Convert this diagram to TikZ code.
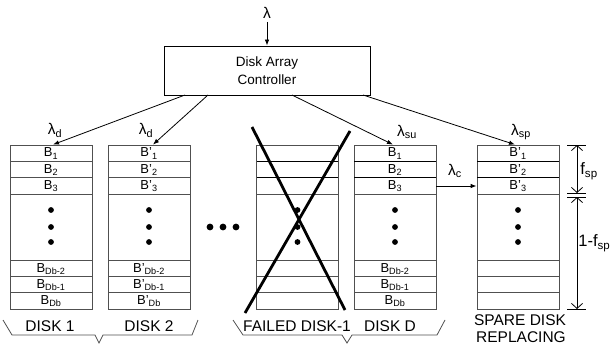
\documentclass[tikz,border=0pt]{standalone}
\usepackage{fontspec}
\setmainfont{Liberation Sans}
\usepackage{xcolor}
\definecolor{diskgray}{RGB}{80,80,80}
\usepackage{tikz}
\usetikzlibrary{arrows.meta, positioning}

\begin{document}
\begin{tikzpicture}[x=1pt, y=-1pt, line width=0.8pt,
  disk/.style={draw=diskgray, minimum width=82pt, minimum height=164pt, inner sep=0pt},
  rowline/.style={diskgray},
  blk/.style={font=\fontsize{13}{14}\selectfont, anchor=base, inner sep=0pt},
  lam/.style={font=\fontsize{15.5}{17}\selectfont, inner sep=0pt},
  caption/.style={font=\fontsize{15.5}{17}\selectfont, inner sep=0pt},
  feed/.style={-{Latex[length=6pt, width=4.5pt]}},
  dim/.style={{Straight Barb[length=5pt, width=11pt]}-{Straight Barb[length=5pt, width=11pt]}},
  brace/.style={diskgray, line join=miter}]

  \useasboundingbox (0,0) rectangle (611,345);

  % Controller and incoming requests
  \node[draw, minimum width=206pt, minimum height=49pt, align=center, font=\fontsize{13.5}{18}\selectfont] (ctrl) at (267,70.5) {Disk Array\\Controller};
  \node[lam] (lin) at (267,13) {λ};
  \coordinate (in) at (267,22);
  \draw[feed] (in) -- (ctrl.north);

  % --- Disk 1 ---
  \node[disk] (d1) at (51,227) {};
  \foreach \y in {161,177,194,260,276,292} \draw[rowline] (10,\y) -- (92,\y);
  \node[blk] (d1r1) at (51,157) {B\textsubscript{1}};
  \node[blk] (d1r2) at (51,173) {B\textsubscript{2}};
  \node[blk] (d1r3) at (51,189) {B\textsubscript{3}};
  \node[blk] (d1r4) at (51,272) {B\textsubscript{Db-2}};
  \node[blk] (d1r5) at (51,288) {B\textsubscript{Db-1}};
  \node[blk] (d1r6) at (51,304) {B\textsubscript{Db}};
  \foreach \y in {210,227,242} \fill (51,\y) circle (2.9pt);

  % --- Disk 2 ---
  \node[disk] (d2) at (149,227) {};
  \foreach \y in {161,177,194,260,276,292} \draw[rowline] (108,\y) -- (190,\y);
  \node[blk] (d2r1) at (149,157) {B'\textsubscript{1}};
  \node[blk] (d2r2) at (149,173) {B'\textsubscript{2}};
  \node[blk] (d2r3) at (149,189) {B'\textsubscript{3}};
  \node[blk] (d2r4) at (149,272) {B'\textsubscript{Db-2}};
  \node[blk] (d2r5) at (149,288) {B'\textsubscript{Db-1}};
  \node[blk] (d2r6) at (149,304) {B'\textsubscript{Db}};
  \foreach \y in {210,227,242} \fill (149,\y) circle (2.9pt);

  % more disks in between
  \foreach \x in {210,223,236} \fill (\x,227) circle (3.4pt);

  % --- Failed disk ---
  \node[disk] (df) at (297.5,227) {};
  \foreach \y in {194,260,276,292} \draw[rowline] (257,\y) -- (338,\y);
  \foreach \y in {161,177} \draw (257,\y) -- (338,\y);
  \foreach \y in {210,227,242} \fill (297.5,\y) circle (2.9pt);
  \draw[line width=2.8pt] (252,127) -- (345,310);
  \draw[line width=2.8pt] (245,313) -- (350,131);

  % --- Disk D ---
  \node[disk] (dD) at (395,227) {};
  \foreach \y in {194,260,276,292} \draw[rowline] (354,\y) -- (436,\y);
  \foreach \y in {161,177} \draw (354,\y) -- (436,\y);
  \node[blk] (dDr1) at (395,157) {B\textsubscript{1}};
  \node[blk] (dDr2) at (395,173) {B\textsubscript{2}};
  \node[blk] (dDr3) at (395,189) {B\textsubscript{3}};
  \node[blk] (dDr4) at (395,272) {B\textsubscript{Db-2}};
  \node[blk] (dDr5) at (395,288) {B\textsubscript{Db-1}};
  \node[blk] (dDr6) at (395,304) {B\textsubscript{Db}};
  \foreach \y in {210,227,242} \fill (395,\y) circle (2.9pt);

  % --- Spare disk ---
  \node[disk] (sp) at (518,227) {};
  \foreach \y in {194,260,276,292} \draw[rowline] (477,\y) -- (559,\y);
  \foreach \y in {161,177} \draw (477,\y) -- (559,\y);
  \node[blk] (spr1) at (518,157) {B'\textsubscript{1}};
  \node[blk] (spr2) at (518,173) {B'\textsubscript{2}};
  \node[blk] (spr3) at (518,189) {B'\textsubscript{3}};
  \foreach \y in {210,227,242} \fill (518,\y) circle (2.9pt);

  % Controller to disks
  \coordinate (c1) at (185,95);
  \coordinate (c2) at (208,95);
  \coordinate (c3) at (292,95);
  \coordinate (c4) at (363,95);
  \draw[feed] (c1) -- ([xshift=2pt]d1.north);
  \draw[feed] (c2) -- ([xshift=4pt]d2.north);
  \draw[feed] (c3) -- ([xshift=-2pt]dD.north);
  \draw[feed] (c4) -- ([xshift=-3pt]sp.north);
  \node[lam] (ld1) at (55,130) {λ\textsubscript{d}};
  \node[lam] (ld2) at (146,130) {λ\textsubscript{d}};
  \node[lam] (lsu) at (407,132) {λ\textsubscript{su}};
  \node[lam] (lsp) at (521,132) {λ\textsubscript{sp}};

  % Copy to spare disk
  \coordinate (cs) at (436,186);
  \draw[feed] (cs) -- (cs -| sp.west);
  \node[lam] (lc) at (455,171) {λ\textsubscript{c}};

  % Fractions of the spare disk
  \coordinate (f0) at (577,145);
  \coordinate (f1) at (577,193);
  \coordinate (f2) at (577,197);
  \coordinate (f3) at (577,309);
  \foreach \p in {f0,f1,f2,f3} \draw ([xshift=-10pt]\p) -- ([xshift=9pt]\p);
  \draw[dim] (f0) -- (f1);
  \draw[dim] (f2) -- (f3);
  \node[lam, anchor=west, font=\fontsize{16.5}{18}\selectfont] (lfsp) at (580,171) {f\textsubscript{sp}};
  \node[lam, anchor=west, font=\fontsize{16.5}{18}\selectfont] (lrest) at (578,243) {1-f\textsubscript{sp}};

  % Captions and group braces
  \node[caption] (cap1) at (50,326) {DISK 1};
  \node[caption] (cap2) at (149,326) {DISK 2};
  \node[caption] (capf) at (297,326) {FAILED DISK-1};
  \node[caption] (capD) at (390,326) {DISK D};
  \node[caption] (caps1) at (520,320) {SPARE DISK};
  \node[caption] (caps2) at (521,337.5) {REPLACING};
  \draw[brace] (3,320) -- (12,335) -- (95,335) -- (99,343) -- (103,335) -- (192,335) -- (198,320);
  \draw[brace] (233,320) -- (243,335) -- (342,335) -- (347,343) -- (352,335) -- (437,335) -- (445,320);
\end{tikzpicture}
\end{document}
